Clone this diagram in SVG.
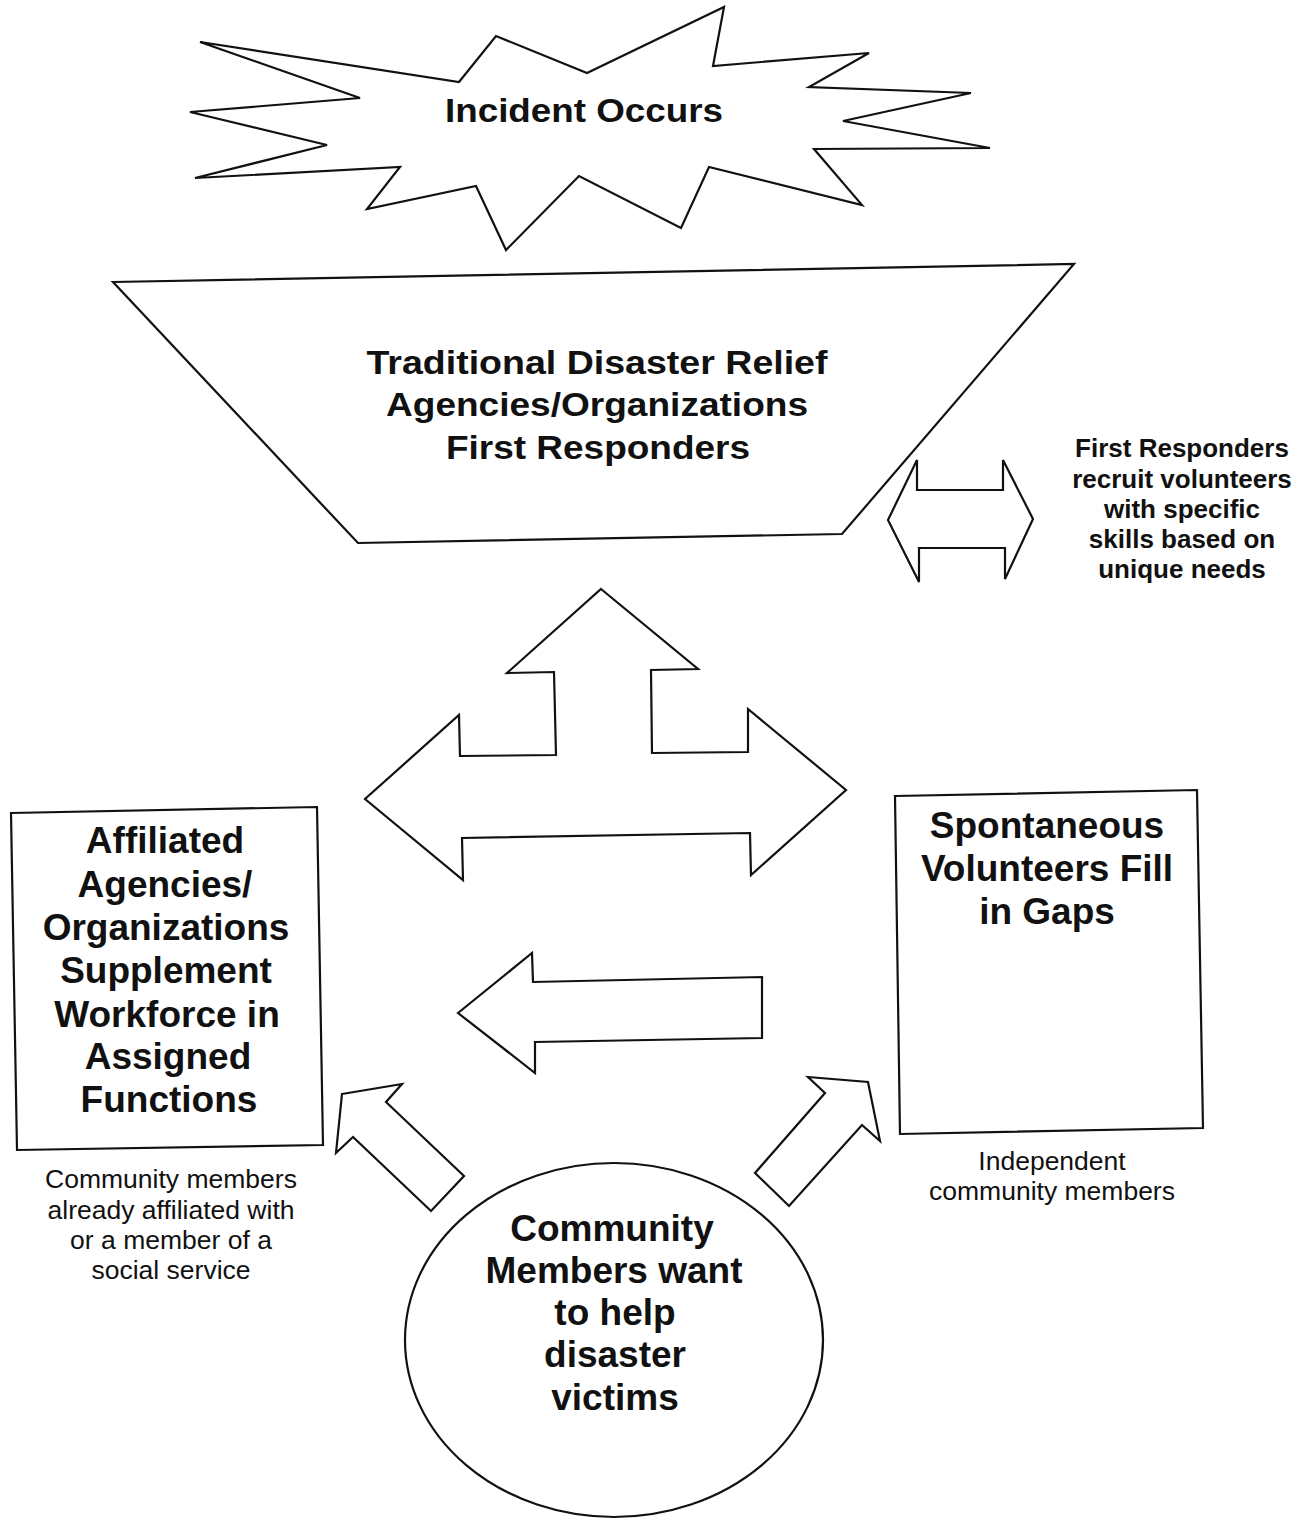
<svg xmlns="http://www.w3.org/2000/svg" width="1314" height="1519" viewBox="0 0 1314 1519">
<style>
.shape{fill:#fff;stroke:#111;stroke-width:2.2;stroke-linejoin:miter}
.arrow{fill:#fff;stroke:#111;stroke-width:2.2;stroke-linejoin:miter}
.big{font-family:"Liberation Sans",Arial,sans-serif;font-weight:bold;font-size:37px;fill:#111;text-anchor:middle}
.cond{font-family:"Liberation Sans",Arial,sans-serif;font-weight:bold;font-size:34px;fill:#111;text-anchor:middle}
.mid{font-family:"Liberation Sans",Arial,sans-serif;font-weight:bold;font-size:26px;fill:#111;text-anchor:middle}
.small{font-family:"Liberation Sans",Arial,sans-serif;font-size:26.5px;fill:#111;text-anchor:middle}
</style>
<rect width="1314" height="1519" fill="#fff"/>
<g id="connectors">
<polygon id="recruit-arrow" class="arrow" points="888,520 917,460 917,490 1003,490 1003,460 1033,519 1005,579 1005,548 919,548 919,582"/>
<polygon id="triple-arrow" class="arrow" points="601,589 698,669 651,670 652,753 748,752 748,709 846,790 751,875 750,833 462,838 463,880 365,799 459,715 460,756 556,755 554,672 507,673"/>
<polygon id="left-arrow" class="arrow" points="458,1013 532,953 533,982 762,977 762,1038 535,1042 535,1073"/>
<polygon id="diag-left-arrow" class="arrow" points="342,1094 402,1084 386,1102 464,1176 431,1211 353,1137 336,1153"/>
<polygon id="diag-right-arrow" class="arrow" points="808,1077 868,1082 880,1141 862,1125 789,1206 755,1173 825,1093"/>
</g>
<g id="incident">
<polygon class="shape" points="200,42 459,82 496,36 587,73 724,7 713,66 869,53 809,87 971,93 843,121 990,148 814,149 862,205 709,167 681,228 579,176 506,250 476,186 367,209 400,167 195,178 327,145 190,112 360,98"/>
<text class="cond" x="584" y="122" textLength="278" lengthAdjust="spacingAndGlyphs">Incident Occurs</text>
</g>
<g id="traditional">
<polygon class="shape" points="113,282 1074,264 842,534 358,543"/>
<text class="cond" x="597" y="374" textLength="461" lengthAdjust="spacingAndGlyphs">Traditional Disaster Relief</text>
<text class="cond" x="597" y="416" textLength="422" lengthAdjust="spacingAndGlyphs">Agencies/Organizations</text>
<text class="cond" x="598" y="459" textLength="304" lengthAdjust="spacingAndGlyphs">First Responders</text>
</g>
<g id="recruit-label">
<text class="mid" x="1182" y="457">First Responders</text>
<text class="mid" x="1182" y="488">recruit volunteers</text>
<text class="mid" x="1182" y="518">with specific</text>
<text class="mid" x="1182" y="548">skills based on</text>
<text class="mid" x="1182" y="578">unique needs</text>
</g>
<g id="affiliated">
<polygon class="shape" points="11,813 317,807 323,1145 17,1150"/>
<text class="big" x="165" y="853">Affiliated</text>
<text class="big" x="165" y="897">Agencies/</text>
<text class="big" x="166" y="940">Organizations</text>
<text class="big" x="166" y="983">Supplement</text>
<text class="big" x="167" y="1027">Workforce in</text>
<text class="big" x="168" y="1069">Assigned</text>
<text class="big" x="169" y="1112">Functions</text>
</g>
<g id="affiliated-label">
<text class="small" x="171" y="1188">Community members</text>
<text class="small" x="171" y="1219">already affiliated with</text>
<text class="small" x="171" y="1249">or a member of a</text>
<text class="small" x="171" y="1279">social service</text>
</g>
<g id="spontaneous">
<polygon class="shape" points="895,796 1197,790 1203,1128 900,1134"/>
<text class="big" x="1047" y="838">Spontaneous</text>
<text class="big" x="1047" y="881">Volunteers Fill</text>
<text class="big" x="1047" y="924">in Gaps</text>
</g>
<g id="spontaneous-label">
<text class="small" x="1052" y="1170">Independent</text>
<text class="small" x="1052" y="1200">community members</text>
</g>
<g id="community">
<ellipse class="shape" cx="614" cy="1340" rx="209" ry="177"/>
<text class="big" x="612" y="1241">Community</text>
<text class="big" x="614" y="1283">Members want</text>
<text class="big" x="615" y="1325">to help</text>
<text class="big" x="615" y="1367">disaster</text>
<text class="big" x="615" y="1410">victims</text>
</g>
</svg>
